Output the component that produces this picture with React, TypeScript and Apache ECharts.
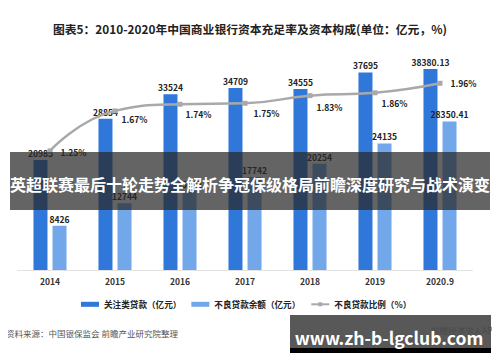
import React, { useEffect, useRef } from "react";
import * as echarts from "echarts";

const categories = ["2014", "2015", "2016", "2017", "2018", "2019", "2020.9"];
const specialMention = [20985, 28854, 33524, 34709, 34555, 37695, 38380.13];
const nplBalance = [8426, 12744, 15122, 17742, 20254, 24135, 28350.41];
const nplRatio = [1.25, 1.67, 1.74, 1.75, 1.83, 1.86, 1.96];
const ratioLabelOffsets: [number, number][] = [
  [2, 1], [-2, 8], [-3, 10], [0, 10], [-2, 11], [-2, 10], [2, 0],
];

const FONT = "'Noto Sans CJK SC', 'Noto Sans', sans-serif";

export default function App() {
  const ref = useRef<HTMLDivElement>(null);
  useEffect(() => {
    if (!ref.current) return;
    const chart = echarts.init(ref.current, undefined, { renderer: "svg" });
    const barLabel = {
      show: true,
      position: "top" as const,
      distance: 3,
      fontSize: 8.5,
      fontWeight: "bold" as const,
      color: "#222",
      fontFamily: FONT,
    };
    chart.setOption({
      animation: false,
      backgroundColor: "#ffffff",
      textStyle: { fontFamily: FONT },
      grid: { left: 17.5, right: 27.5, top: 60.4, bottom: 92, containLabel: false },
      xAxis: {
        type: "category",
        data: categories,
        axisLine: { show: true, lineStyle: { color: "#e3e3e3", width: 1 } },
        axisTick: { show: false },
        axisLabel: { fontSize: 8.5, fontWeight: "bold", color: "#333", margin: 7, fontFamily: FONT },
      },
      yAxis: [
        { type: "value", min: 0, max: 40000, show: false, splitLine: { show: false } },
        { type: "value", min: 0, max: 2.2, show: false, splitLine: { show: false } },
      ],
      legend: {
        left: 76,
        top: 295,
        itemGap: 10,
        itemWidth: 18,
        itemHeight: 5,
        textStyle: { fontSize: 8.6, color: "#222", fontFamily: FONT, fontWeight: "bold" },
        data: [
          { name: "关注类贷款（亿元）", icon: "rect" },
          { name: "不良贷款余额（亿元）", icon: "rect" },
          { name: "不良贷款比例（%）" },
        ],
      },
      series: [
        {
          name: "关注类贷款（亿元）",
          type: "bar",
          data: specialMention,
          barWidth: 14,
          barGap: "36%",
          itemStyle: { color: "#2f77d8" },
          label: barLabel,
        },
        {
          name: "不良贷款余额（亿元）",
          type: "bar",
          data: nplBalance,
          barWidth: 14,
          itemStyle: { color: "#72a7ea" },
          label: barLabel,
        },
        {
          name: "不良贷款比例（%）",
          type: "line",
          yAxisIndex: 1,
          smooth: true,
          data: nplRatio.map((v, i) => ({
            value: v,
            label: { offset: ratioLabelOffsets[i] },
          })),
          symbol: "rect",
          symbolSize: 5,
          lineStyle: { color: "#a9a9a9", width: 2.5 },
          itemStyle: { color: "#a9a9a9" },
          label: {
            show: true,
            position: "right",
            distance: 6,
            fontSize: 8.5,
            fontWeight: "bold",
            color: "#222",
            fontFamily: FONT,
            formatter: (p: any) => p.value.toFixed(2) + "%",
          },
          z: 5,
        },
      ],
      graphic: [
        {
          type: "text",
          x: 250,
          y: 28,
          style: {
            text: "图表5：2010-2020年中国商业银行资本充足率及资本构成(单位：亿元，%)",
            fontSize: 11.8,
            fontWeight: "bold",
            fill: "#222",
            align: "center",
            verticalAlign: "middle",
            fontFamily: FONT,
          },
        },
        {
          type: "text",
          x: 6,
          y: 333,
          style: {
            text: "资料来源：中国银保监会 前瞻产业研究院整理",
            fontSize: 8.5,
            fill: "#555",
            verticalAlign: "middle",
            fontFamily: FONT,
          },
        },
        {
          type: "text",
          x: 498,
          y: 330,
          style: {
            text: "前瞻经济学人APP",
            fontSize: 8.5,
            fill: "#666",
            align: "right",
            verticalAlign: "middle",
            fontFamily: FONT,
          },
        },
        {
          type: "rect",
          shape: { x: 10, y: 152, width: 480, height: 58 },
          style: { fill: "rgba(40,40,40,0.72)" },
          z: 100,
        },
        {
          type: "text",
          x: 250,
          y: 184,
          style: {
            text: "英超联赛最后十轮走势全解析争冠保级格局前瞻深度研究与战术演变",
            fontSize: 16,
            fontWeight: "bold",
            fill: "#ffffff",
            align: "center",
            verticalAlign: "middle",
            fontFamily: FONT,
          },
          z: 101,
        },
        {
          type: "rect",
          shape: { x: 290, y: 315, width: 201, height: 33 },
          style: { fill: "rgba(70,70,70,0.9)" },
          z: 100,
        },
        {
          type: "rect",
          shape: { x: 290, y: 348, width: 201, height: 5 },
          style: { fill: "#000000" },
          z: 100,
        },
        {
          type: "text",
          x: 389,
          y: 337,
          style: {
            text: "www.zh-b-lgclub.com",
            fontSize: 17.5,
            fontWeight: "bold",
            fill: "#ffffff",
            align: "center",
            verticalAlign: "middle",
            fontFamily: FONT,
          },
          z: 101,
        },
      ],
    });
    return () => chart.dispose();
  }, []);
  return <div ref={ref} style={{ width: 500, height: 362, margin: -8 }} />;
}
